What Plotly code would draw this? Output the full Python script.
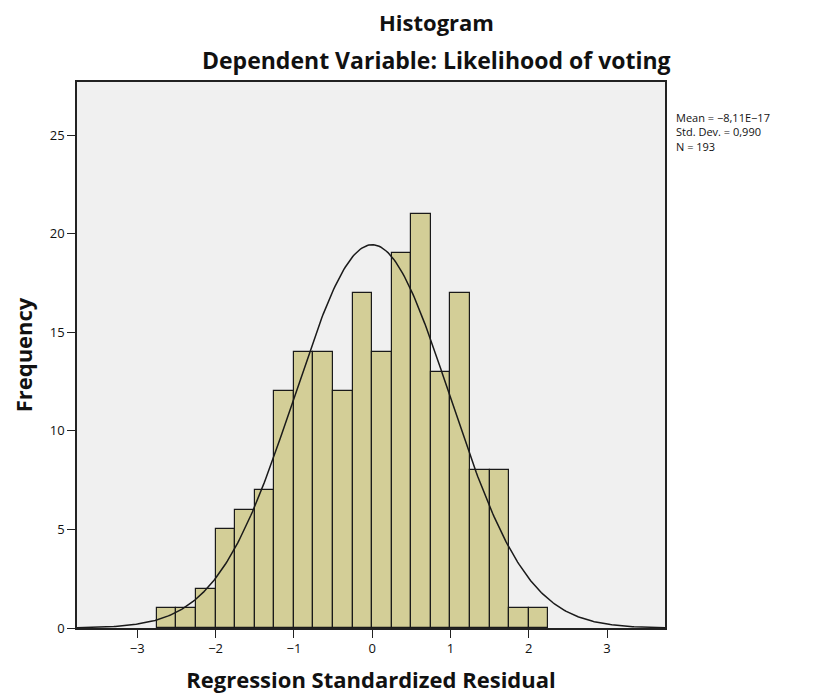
import numpy as np
import plotly.graph_objects as go

bin_edges_start = -2.75
bin_width = 0.25
frequencies = [1, 1, 2, 5, 6, 7, 12, 14, 14, 12, 17, 14, 19, 21, 13, 17, 8, 8, 1, 1]
x_ticks = [-3, -2, -1, 0, 1, 2, 3]
x_tick_labels = ["−3", "−2", "−1", "0", "1", "2", "3"]
y_ticks = [0, 5, 10, 15, 20, 25]
mean_val = -8.11e-17
sd_val = 0.990
n_val = 193
stats_lines = ["Mean = −8,11E−17", "Std. Dev. = 0,990", "N = 193"]

centers = [bin_edges_start + bin_width * (i + 0.5) for i in range(len(frequencies))]

xr = [-3.77, 3.74]
xc = np.linspace(xr[0], xr[1], 400)
yc = n_val * bin_width / (sd_val * np.sqrt(2 * np.pi)) * np.exp(-0.5 * ((xc - mean_val) / sd_val) ** 2)

FONT = "Open Sans"

fig = go.Figure()
fig.add_trace(go.Bar(
    x=centers, y=frequencies, width=bin_width,
    marker=dict(color="#D3CE97", line=dict(color="#1a1a1a", width=1.2)),
    showlegend=False, hoverinfo="x+y",
))
fig.add_trace(go.Scatter(
    x=xc, y=yc, mode="lines", line=dict(color="#1a1a1a", width=1.5),
    showlegend=False, hoverinfo="skip",
))

annotations = [
    dict(text="<b>Histogram</b>", x=0.612, y=1.11, xref="paper", yref="paper",
         showarrow=False, font=dict(size=22, family=FONT), xanchor="center", yanchor="middle"),
    dict(text="<b>Dependent Variable: Likelihood of voting</b>", x=0.612, y=1.040, xref="paper", yref="paper",
         showarrow=False, font=dict(size=23, family=FONT), xanchor="center", yanchor="middle"),
    dict(text="<br>".join(stats_lines), x=1.015, y=0.952, xref="paper", yref="paper",
         showarrow=False, font=dict(size=11, family=FONT),
         xanchor="left", yanchor="top", align="left"),
]

fig.update_layout(
    width=816, height=693,
    margin=dict(l=67, r=159, t=74, b=73),
    paper_bgcolor="white", plot_bgcolor="#F0F0F0",
    font=dict(family=FONT, color="#111"),
    bargap=0,
    annotations=annotations,
)
fig.update_xaxes(
    range=xr, tickmode="array", tickvals=x_ticks, ticktext=x_tick_labels,
    ticks="outside", ticklen=8, tickcolor="#222", tickwidth=1,
    ticklabeloverflow="allow",
    showline=True, linecolor="#222", linewidth=1.5, mirror=True,
    showgrid=False, zeroline=False,
    tickfont=dict(size=13, family=FONT, color="#111"),
    title=dict(text="<b>Regression Standardized Residual</b>", font=dict(size=22, family=FONT), standoff=16),
)
fig.update_yaxes(
    range=[0, 27.7], tickmode="array", tickvals=y_ticks,
    ticks="outside", ticklen=8, tickcolor="#222", tickwidth=1,
    showline=True, linecolor="#222", linewidth=1.5, mirror=True,
    showgrid=False, zeroline=False,
    tickfont=dict(size=13, family=FONT, color="#111"),
    title=dict(text="<b>Frequency</b>", font=dict(size=22, family=FONT), standoff=14),
)

fig.write_html("out.html")
